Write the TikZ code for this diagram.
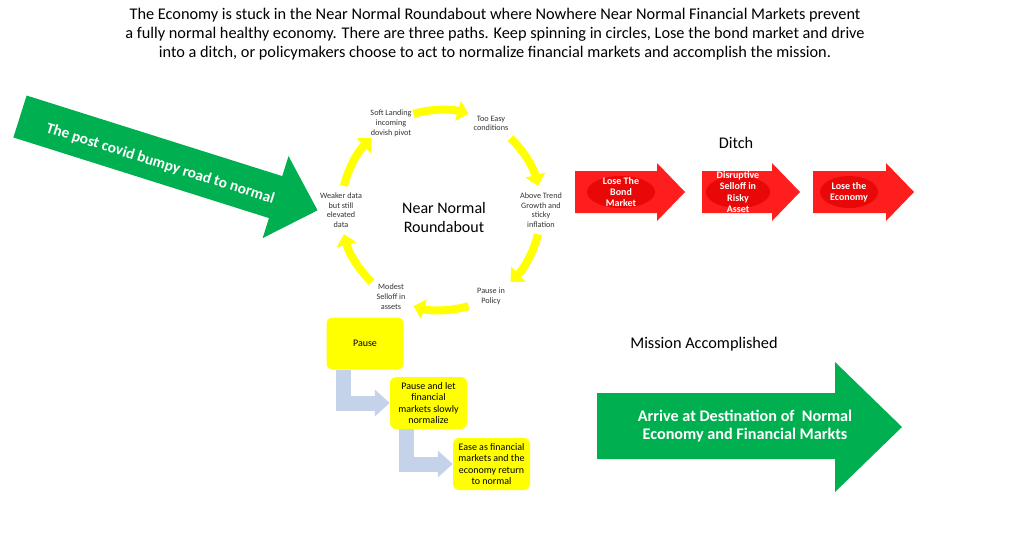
\documentclass[tikz,border=0pt]{standalone}
\usepackage{fontspec}
\setmainfont{Carlito}
\usetikzlibrary{arrows.meta,calc}

\definecolor{roadgreen}{HTML}{00B050}
\definecolor{ditchred}{HTML}{FF1E1E}
\definecolor{ditchdark}{HTML}{E80808}
\definecolor{ringyellow}{HTML}{FFFF00}
\definecolor{stepblue}{HTML}{C5D3EA}

\begin{document}
\begin{tikzpicture}[x=1pt,y=1pt,
  ringarrow/.style={ringyellow,line width=8pt,-{Triangle[length=11pt,width=20pt]}},
  ringlabel/.style={font=\fontsize{8.2}{9.6}\selectfont,text=black!80,align=center},
  ditch/.style={font=\bfseries\fontsize{10}{11.4}\selectfont,text=white,align=center},
  pausebox/.style={fill=ringyellow,rounded corners=6pt,minimum width=77pt,minimum height=52pt,
    align=center,font=\fontsize{10}{11.6}\selectfont,inner sep=2pt},
  elbow/.style={stepblue,line width=15pt,line join=miter,-{Triangle[length=15pt,width=26pt]}},
  big/.style={font=\fontsize{16.3}{19}\selectfont,align=center}]
  \useasboundingbox (0,0) rectangle (1019,-539);

  \node[big] (title) at (495,-34) {The Economy is stuck in the Near Normal Roundabout where Nowhere Near Normal Financial Markets prevent\\
    a fully normal healthy economy. There are three paths. Keep spinning in circles, Lose the bond market and drive\\
    into a ditch, or policymakers choose to act to normalize financial markets and accomplish the mission.};

  % road in
  \begin{scope}[shift={(20,-116.5)},rotate=-17.5]
    \fill[roadgreen] (0,22) -- (268,22) -- (268,43) -- (312,0) -- (268,-43) -- (268,-22) -- (0,-22) -- cycle;
    \node[transform shape,text=white,font=\bfseries\fontsize{15.3}{17}\selectfont] (road) at (148,-3) {The post covid bumpy road to normal};
  \end{scope}

  % roundabout
  \coordinate (hub) at (441,-210);
  \node[big,font=\fontsize{16}{19}\selectfont] (nnr) at (444,-217) {Near Normal\\Roundabout};
  \foreach \a/\nm/\txt in {120/soft/{Soft Landing\\incoming\\dovish pivot},60/easy/{Too Easy\\conditions},
      0/trend/{Above Trend\\Growth and\\sticky\\inflation},-60/policy/{Pause in\\Policy},
      -120/modest/{Modest\\Selloff in\\assets},180/weaker/{Weaker data\\but still\\elevated\\data}}
    \node[ringlabel] (\nm) at ($(hub)+(\a:100)$) {\txt};
  \foreach \a in {106,46,-14,-74,-134,166}
    \draw[ringarrow] ($(hub)+(\a:100)$) arc[start angle=\a,end angle=\a-32,radius=100];

  % ditch
  \node[big] (ditchlbl) at (736,-143) {Ditch};
  \foreach \xa/\xb/\ex/\rx/\nm/\txt in {575/685/621/34/bond/{Lose The\\Bond\\Market},
      702/800/738/32/risky/{Disruptive\\Selloff in\\Risky\\Asset},813/914/849/29/econ/{Lose the\\Economy}} {
    \fill[ditchred] (\xa,-171) -- (\xb-28,-171) -- (\xb-28,-163) -- (\xb,-192) -- (\xb-28,-221)
      -- (\xb-28,-213) -- (\xa,-213) -- cycle;
    \fill[ditchdark] (\ex,-192) ellipse[x radius=\rx,y radius=16];
    \node[ditch] (\nm) at (\ex,-192) {\txt};
  }

  % way out
  \node[pausebox] (pause) at (365,-343.5) {Pause};
  \node[pausebox] (letnorm) at (428.5,-403) {Pause and let\\financial\\markets slowly\\normalize};
  \node[pausebox] (ease) at (491.5,-464) {Ease as financial\\markets and the\\economy return\\to normal};
  \draw[elbow] ([xshift=-22pt]pause.south) |- (letnorm.west);
  \draw[elbow] ([xshift=-22pt]letnorm.south) |- (ease.west);

  \node[big] (mission) at (704,-344) {Mission Accomplished};
  \fill[roadgreen] (597,-393) -- (835,-393) -- (835,-362) -- (902,-427) -- (835,-492) -- (835,-459)
    -- (597,-459) -- cycle;
  \node[text=white,font=\bfseries\fontsize{16.2}{18}\selectfont,align=center] (arrive) at (745,-426)
    {Arrive at Destination of\ \ Normal\\Economy and Financial Markts};
\end{tikzpicture}
\end{document}
